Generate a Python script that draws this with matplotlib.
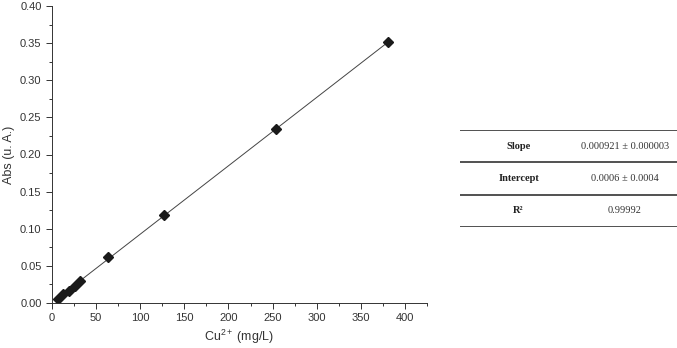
import numpy as np
import matplotlib.pyplot as plt
from matplotlib.ticker import MultipleLocator

# Curva de calibração do Cu2+
conc = [6.4, 12.8, 19.2, 25.6, 31.8, 63.3, 127.0, 254.0, 380.8]
absb = [0.0054, 0.0121, 0.0166, 0.0229, 0.0296, 0.0615, 0.118, 0.2348, 0.3515]

slope = 0.000921
intercept = 0.0006

rotulos = ['Slope', 'Intercept', 'R²']
valores = ['0.000921 ± 0.000003', '0.0006 ± 0.0004', '0.99992']

plt.rcParams['font.family'] = ['Liberation Sans', 'DejaVu Sans']
plt.rcParams['mathtext.fontset'] = 'custom'
plt.rcParams['mathtext.rm'] = 'Liberation Sans'
plt.rcParams['mathtext.it'] = 'Liberation Sans:italic'

fig = plt.figure(figsize=(6.77, 3.48), dpi=100)
ax = fig.add_axes([52/677, 45/348, 375/677, 297/348])

xfit = np.array([conc[0], conc[-1]])
ax.plot(xfit, slope*xfit + intercept, color='#444444', lw=0.7, zorder=1)
ax.plot(conc, absb, 'D', color='#1a1a1a', markersize=5.5, zorder=2)

ax.set_xlim(0, 425)
ax.set_ylim(0, 0.40)
ax.xaxis.set_major_locator(MultipleLocator(50))
ax.xaxis.set_minor_locator(MultipleLocator(25))
ax.yaxis.set_major_locator(MultipleLocator(0.05))
ax.yaxis.set_minor_locator(MultipleLocator(0.025))
ax.yaxis.set_major_formatter(plt.FormatStrFormatter('%.2f'))
ax.tick_params(which='major', length=4, width=0.7, labelsize=8, colors='#333333')
ax.tick_params(which='minor', length=2.5, width=0.7, colors='#333333')
for s in ['top', 'right']:
    ax.spines[s].set_visible(False)
for s in ['left', 'bottom']:
    ax.spines[s].set_linewidth(0.7)
    ax.spines[s].set_color('#333333')
ax.set_xlabel(r'Cu$^{\mathrm{2+}}$ (mg/L)', fontsize=9, color='#333333', labelpad=3)
ax.set_ylabel('Abs (u. A.)', fontsize=9, color='#333333', labelpad=4)

# Tabela com os parâmetros do ajuste
tb = fig.add_axes([460/677, 121/348, 217/677, 97/348])
tb.set_xlim(0, 1)
tb.set_ylim(0, 3)
tb.axis('off')
for y in [0, 1, 2, 3]:
    tb.axhline(y, color='#333333', lw=1.2)
for i, (r, v) in enumerate(zip(rotulos, valores)):
    y = 2.5 - i
    tb.text(0.27, y, r, ha='center', va='center', fontsize=7.5,
            fontweight='bold', family=['Liberation Serif', 'DejaVu Serif'], color='#222222')
    tb.text(0.76, y, v, ha='center', va='center', fontsize=7.5,
            family=['Liberation Serif', 'DejaVu Serif'], color='#333333')

fig.savefig('out.png', dpi=100)
